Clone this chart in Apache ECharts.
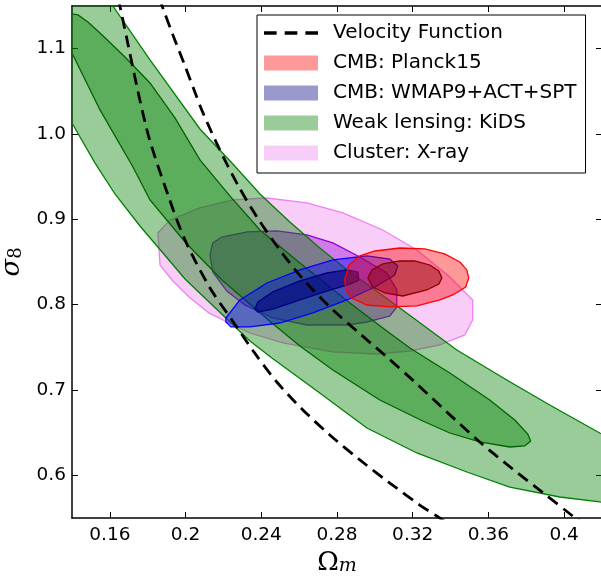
<!DOCTYPE html>
<html>
<head>
<meta charset="utf-8">
<script src="https://cdn.jsdelivr.net/npm/echarts@6/dist/echarts.min.js"></script>
<style>
  html, body { margin: 0; padding: 0; background: #fff; }
  #chart { width: 601px; height: 578px; }
</style>
</head>
<body>
<div id="chart"></div>
<script>
// tick positions
const xTicks = [0.16, 0.2, 0.24, 0.28, 0.32, 0.36, 0.4];
const yTicks = [0.6, 0.7, 0.8, 0.9, 1.0, 1.1];

// velocity function curves (Omega_m, sigma_8)
const velocityLeft = [
  [0.1622, 1.1805], [0.1653, 1.15], [0.1796, 1.0047], [0.1907, 0.9286], [0.1997, 0.8758],
  [0.2129, 0.8196], [0.2245, 0.7821], [0.2361, 0.7446], [0.2482, 0.7094], [0.2620, 0.6766],
  [0.2762, 0.6473], [0.2921, 0.6180], [0.3079, 0.5910], [0.3237, 0.5652], [0.3327, 0.5523],
  [0.3422, 0.5383]
];
const velocityRight = [
  [0.1828, 1.1805], [0.1880, 1.1477], [0.1933, 1.1161], [0.1997, 1.0797], [0.2049, 1.0493],
  [0.2092, 1.0247], [0.2181, 0.9813], [0.2276, 0.9403], [0.2377, 0.9028], [0.2498, 0.8641],
  [0.2620, 0.8301], [0.2762, 0.7973], [0.2910, 0.7680], [0.3063, 0.7387], [0.3211, 0.7094],
  [0.3369, 0.6766], [0.3554, 0.6391], [0.3728, 0.6074], [0.3897, 0.5781], [0.4045, 0.5523],
  [0.4119, 0.5395]
];

// contours (outer = 2 sigma, inner = 1 sigma)
const kidsOuter = [
  [0.1516, 1.1805], [0.1616, 1.150], [0.1812, 1.0868], [0.2076, 1.0059], [0.2250, 0.9649],
  [0.2393, 0.9297], [0.2551, 0.8969], [0.2709, 0.8664], [0.2868, 0.8383], [0.3132, 0.7961],
  [0.3433, 0.7469], [0.3697, 0.7117], [0.3924, 0.6824], [0.4188, 0.6496], [0.4346, 0.6320],
  [0.4346, 0.5664], [0.4188, 0.5688], [0.3977, 0.5746], [0.3713, 0.5863], [0.3486, 0.6039],
  [0.3222, 0.6262], [0.2958, 0.6555], [0.2673, 0.7024], [0.2456, 0.7375], [0.2340, 0.7574],
  [0.1997, 0.8301], [0.1759, 0.8922], [0.1627, 0.9297], [0.1521, 0.9661], [0.1400, 1.0129],
  [0.1231, 1.0774], [0.1125, 1.1172], [0.1020, 1.1805]
];
const kidsInner = [
  [0.1337, 1.1395], [0.1400, 1.1407], [0.1432, 1.1395], [0.1484, 1.1313], [0.1548, 1.1184],
  [0.1680, 1.0903], [0.1812, 1.0598], [0.1944, 1.0188], [0.2076, 0.9696], [0.2234, 0.9274],
  [0.2393, 0.8875], [0.2604, 0.8489], [0.2868, 0.8020], [0.3042, 0.7727], [0.3185, 0.7492],
  [0.3396, 0.7199], [0.3607, 0.6883], [0.3739, 0.6649], [0.3808, 0.6484], [0.3823, 0.6402],
  [0.3792, 0.6344], [0.3713, 0.6332], [0.3554, 0.6391], [0.3396, 0.6496], [0.3253, 0.6637],
  [0.3026, 0.6883], [0.2778, 0.7235], [0.2604, 0.7516], [0.2456, 0.7785], [0.2192, 0.8289],
  [0.1997, 0.8735], [0.1812, 0.9227], [0.1722, 0.9614], [0.1548, 1.0282], [0.1405, 1.0926],
  [0.1337, 1.1219]
];
const clusterOuter = [
  [0.1854, 0.8840], [0.1917, 0.8993], [0.2076, 0.9133], [0.2250, 0.9227], [0.2430, 0.9250],
  [0.2641, 0.9192], [0.2831, 0.9075], [0.3042, 0.8875], [0.3222, 0.8641], [0.3396, 0.8325],
  [0.3517, 0.8055], [0.3517, 0.7821], [0.3475, 0.7645], [0.3343, 0.7528], [0.3185, 0.7457],
  [0.3010, 0.7422], [0.2778, 0.7446], [0.2514, 0.7551], [0.2340, 0.7668], [0.2229, 0.7785],
  [0.2123, 0.7903], [0.2018, 0.8090], [0.1928, 0.8289], [0.1865, 0.8465]
];
const clusterInner = [
  [0.2129, 0.8582], [0.2144, 0.8723], [0.2192, 0.8793], [0.2324, 0.8852], [0.2482, 0.8864],
  [0.2641, 0.8817], [0.2778, 0.8723], [0.2921, 0.8559], [0.3063, 0.8371], [0.3116, 0.8172],
  [0.3116, 0.7973], [0.3079, 0.7867], [0.2958, 0.7797], [0.2852, 0.7762], [0.2641, 0.7762],
  [0.2461, 0.7844], [0.2313, 0.7996], [0.2218, 0.8160], [0.2144, 0.8383]
];
const wmapOuter = [
  [0.2213, 0.7844], [0.2287, 0.8055], [0.2430, 0.8254], [0.2604, 0.8407], [0.2778, 0.8524],
  [0.2958, 0.8571], [0.3079, 0.8535], [0.3121, 0.8453], [0.3105, 0.8348], [0.3000, 0.8207],
  [0.2852, 0.8055], [0.2673, 0.7903], [0.2498, 0.7785], [0.2340, 0.7739], [0.2240, 0.7739],
  [0.2213, 0.7797]
];
const wmapInner = [
  [0.2366, 0.7949], [0.2382, 0.8032], [0.2461, 0.8149], [0.2604, 0.8278], [0.2746, 0.8371],
  [0.2852, 0.8407], [0.2910, 0.8383], [0.2915, 0.8289], [0.2868, 0.8242], [0.2746, 0.8160],
  [0.2604, 0.8055], [0.2461, 0.7949], [0.2382, 0.7914]
];
const planckOuter = [
  [0.2841, 0.8289], [0.2863, 0.8465], [0.2921, 0.8571], [0.3000, 0.8629], [0.3132, 0.8664],
  [0.3264, 0.8653], [0.3369, 0.8594], [0.3449, 0.8500], [0.3486, 0.8407], [0.3496, 0.8313],
  [0.3480, 0.8207], [0.3412, 0.8114], [0.3343, 0.8055], [0.3222, 0.7985], [0.3079, 0.7973],
  [0.2958, 0.7996], [0.2878, 0.8078], [0.2847, 0.8172]
];
const planckInner = [
  [0.2963, 0.8313], [0.2984, 0.8407], [0.3042, 0.8477], [0.3132, 0.8512], [0.3211, 0.8512],
  [0.3290, 0.8465], [0.3338, 0.8395], [0.3354, 0.8313], [0.3338, 0.8242], [0.3274, 0.8172],
  [0.3148, 0.8102], [0.3053, 0.8137], [0.2989, 0.8207]
];

const chart = echarts.init(document.getElementById('chart'));
const font = 'DejaVu Sans';

function contour(name, pts, fill, stroke, z) {
  return {
    type: 'custom',
    name: name,
    z: z,
    clip: true,
    data: pts,
    itemStyle: { color: fill },
    renderItem: function(params, api) {
      if (params.dataIndex !== 0) {
        return null;
      }
      return {
        type: 'polygon',
        shape: { points: pts.map(function(p) { return api.coord(p); }) },
        style: { fill: fill, stroke: stroke, lineWidth: 1.3 }
      };
    }
  };
}

function velocity(data) {
  return {
    type: 'line',
    name: 'Velocity Function',
    data: data,
    smooth: 0.3,
    symbol: 'none',
    z: 10,
    clip: true,
    itemStyle: { color: '#000' },
    lineStyle: { color: '#000', width: 2.8, type: [12, 7] }
  };
}

const tickStyle = {
  inside: true,
  length: 6,
  lineStyle: { color: '#000', width: 1 }
};
const lineStyle = { show: true, onZero: false, lineStyle: { color: '#000', width: 1.5 } };

const option = {
  backgroundColor: '#fff',
  animation: false,
  grid: { left: 72, top: 6, width: 530, height: 512, outerBoundsMode: 'none', containLabel: false },
  legend: {
    orient: 'vertical',
    left: 257,
    top: 15,
    padding: [8, 9, 10, 7],
    backgroundColor: '#fff',
    borderColor: '#000',
    borderWidth: 1,
    borderRadius: 0,
    itemWidth: 54,
    itemHeight: 15,
    itemGap: 10,
    textStyle: { fontFamily: font, fontSize: 20, color: '#000', lineHeight: 20, padding: [0, 0, 0, 10] },
    data: [
      {
        name: 'Velocity Function',
        icon: 'path://M0,0h11v3h-11z M18,0h11v3h-11z M36,0h11v3h-11z',
        itemStyle: { color: '#000', borderWidth: 0 }
      },
      { name: 'CMB: Planck15', icon: 'rect', itemStyle: { color: 'rgba(255,0,0,0.4)', borderWidth: 0 } },
      { name: 'CMB: WMAP9+ACT+SPT', icon: 'rect', itemStyle: { color: 'rgba(0,0,128,0.4)', borderWidth: 0 } },
      { name: 'Weak lensing: KiDS', icon: 'rect', itemStyle: { color: 'rgba(0,128,0,0.4)', borderWidth: 0 } },
      { name: 'Cluster: X-ray', icon: 'rect', itemStyle: { color: 'rgba(238,130,238,0.4)', borderWidth: 0 } }
    ]
  },
  xAxis: [
    {
      type: 'value',
      min: 0.14,
      max: 0.42,
      position: 'bottom',
      axisLine: lineStyle,
      axisTick: Object.assign({ customValues: xTicks }, tickStyle),
      axisLabel: {
        customValues: xTicks,
        margin: 8,
        fontFamily: font,
        fontSize: 18.5,
        color: '#000',
        formatter: function(v) { return String(+v.toFixed(2)); }
      },
      splitLine: { show: false },
      name: '{a|Ω}{b|m}',
      nameLocation: 'middle',
      nameGap: 30,
      nameTextStyle: {
        rich: {
          a: { fontFamily: 'DejaVu Serif', fontSize: 26, color: '#000', verticalAlign: 'middle' },
          b: { fontFamily: 'DejaVu Serif', fontStyle: 'italic', fontSize: 19, color: '#000', verticalAlign: 'bottom' }
        }
      }
    },
    {
      type: 'value',
      min: 0.14,
      max: 0.42,
      position: 'top',
      axisLine: lineStyle,
      axisTick: Object.assign({ customValues: xTicks }, tickStyle),
      axisLabel: { show: false },
      splitLine: { show: false }
    }
  ],
  yAxis: [
    {
      type: 'value',
      min: 0.55,
      max: 1.15,
      position: 'left',
      axisLine: lineStyle,
      axisTick: Object.assign({ customValues: yTicks }, tickStyle),
      axisLabel: {
        customValues: yTicks,
        margin: 6,
        fontFamily: font,
        fontSize: 18.5,
        color: '#000',
        formatter: function(v) { return v.toFixed(1); }
      },
      splitLine: { show: false },
      name: '{a|σ}{b|8}',
      nameLocation: 'middle',
      nameRotate: 90,
      nameGap: 42,
      nameTextStyle: {
        rich: {
          a: { fontFamily: 'DejaVu Serif', fontStyle: 'italic', fontSize: 26, color: '#000', verticalAlign: 'middle' },
          b: { fontFamily: 'DejaVu Serif', fontSize: 18, color: '#000', verticalAlign: 'bottom' }
        }
      }
    },
    {
      type: 'value',
      min: 0.55,
      max: 1.15,
      position: 'right',
      axisLine: lineStyle,
      axisTick: Object.assign({ customValues: yTicks }, tickStyle),
      axisLabel: { show: false },
      splitLine: { show: false }
    }
  ],
  series: [
    contour('Cluster: X-ray', clusterOuter, 'rgba(238,130,238,0.4)', '#ee82ee', 1),
    contour('Cluster: X-ray', clusterInner, 'rgba(148,0,211,0.4)', '#9400d3', 2),
    contour('Weak lensing: KiDS', kidsOuter, 'rgba(0,128,0,0.4)', '#008000', 3),
    contour('Weak lensing: KiDS', kidsInner, 'rgba(0,128,0,0.4)', '#006400', 4),
    contour('CMB: WMAP9+ACT+SPT', wmapOuter, 'rgba(0,0,255,0.4)', '#0000ff', 5),
    contour('CMB: WMAP9+ACT+SPT', wmapInner, 'rgba(0,0,128,0.6)', '#000080', 6),
    contour('CMB: Planck15', planckOuter, 'rgba(255,0,0,0.4)', '#ff0000', 7),
    contour('CMB: Planck15', planckInner, 'rgba(139,0,0,0.45)', '#8b0000', 8),
    velocity(velocityLeft),
    velocity(velocityRight)
  ]
};
chart.setOption(option);
</script>
</body>
</html>
